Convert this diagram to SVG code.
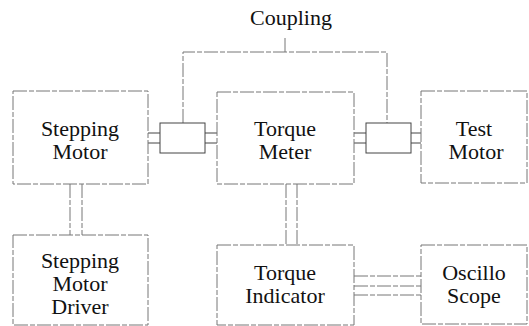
<svg xmlns="http://www.w3.org/2000/svg" width="529" height="326" viewBox="0 0 529 326">
<style>
.box{fill:none;stroke:#777;stroke-width:1;stroke-dasharray:14 2 5 2}
.ln{fill:none;stroke:#777;stroke-width:1;stroke-dasharray:14 2 5 2}
.cp{fill:none;stroke:#444;stroke-width:1}
.t{font-family:'Times New Roman',Times,'Liberation Serif','Nimbus Roman','FreeSerif','Noto Serif','DejaVu Serif',Georgia,serif;font-size:22px;fill:#111;text-anchor:middle}
</style>
<rect width="529" height="326" fill="#fff"/>
<g id="connectors">
<path class="ln" d="M183,123 V52 H387 V123 M285,38 V52"/>
<path class="ln" d="M70,184 V235 M82,184 V235"/>
<path class="ln" d="M286,184 V245 M297,184 V245"/>
<path class="ln" d="M354,276 H421 M354,286 H421 M354,295 H421"/>
</g>
<g id="coupling-left">
<rect class="cp" x="160" y="123" width="45" height="30"/>
<path class="cp" d="M148,133 H160 M148,143 H160 M205,133 H217 M205,143 H217"/>
</g>
<g id="coupling-right">
<rect class="cp" x="366" y="123" width="45" height="30"/>
<path class="cp" d="M354,133 H366 M354,143 H366 M411,133 H421 M411,143 H421"/>
</g>
<g id="coupling-label"><text class="t" x="291" y="25">Coupling</text></g>
<g id="stepping-motor">
<rect class="box" x="13" y="91" width="135" height="93"/>
<text class="t" x="80" y="136">Stepping</text><text class="t" x="80" y="159">Motor</text>
</g>
<g id="torque-meter">
<rect class="box" x="217" y="92" width="137" height="92"/>
<text class="t" x="285" y="136">Torque</text><text class="t" x="285" y="159">Meter</text>
</g>
<g id="test-motor">
<rect class="box" x="421" y="91" width="106" height="92"/>
<text class="t" x="474" y="136">Test</text><text class="t" x="476" y="159">Motor</text>
</g>
<g id="stepping-motor-driver">
<rect class="box" x="13" y="235" width="135" height="90"/>
<text class="t" x="80" y="268">Stepping</text><text class="t" x="80" y="291">Motor</text><text class="t" x="80" y="314">Driver</text>
</g>
<g id="torque-indicator">
<rect class="box" x="217" y="245" width="137" height="80"/>
<text class="t" x="285" y="280">Torque</text><text class="t" x="285" y="303">Indicator</text>
</g>
<g id="oscillo-scope">
<rect class="box" x="421" y="245" width="106" height="79"/>
<text class="t" x="474" y="280">Oscillo</text><text class="t" x="474" y="303">Scope</text>
</g>
</svg>
